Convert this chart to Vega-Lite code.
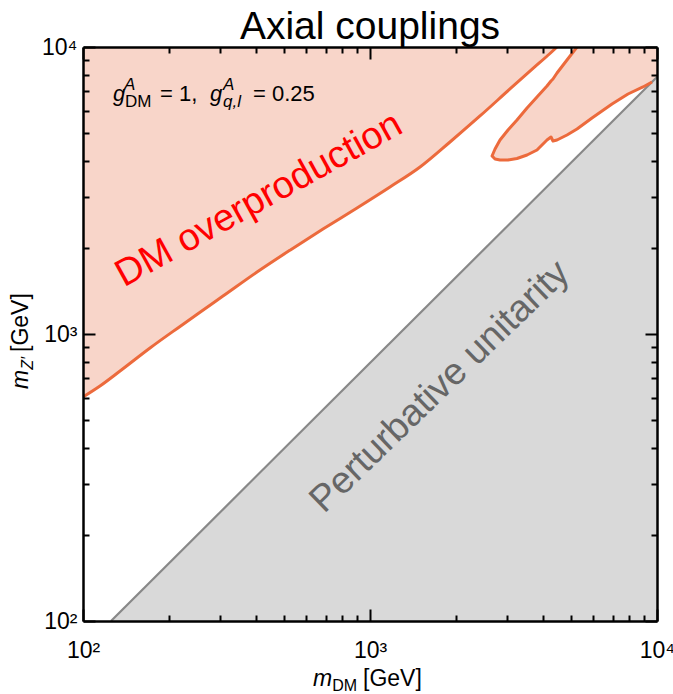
{
  "$schema": "https://vega.github.io/schema/vega-lite/v6.json",
  "width": 574,
  "height": 574,
  "autosize": {"type": "none"},
  "padding": {"left": 83, "top": 47, "right": 16, "bottom": 73},
  "background": "white",
  "config": {"font": "Liberation Sans", "view": {"stroke": null}},
  "title": {"text": "Axial couplings", "fontSize": 39, "font": "Liberation Sans", "fontWeight": "normal", "color": "black", "anchor": "middle", "offset": -11},
  "datasets": {
    "main": [
      {"x": 100, "y": 603.4}, {"x": 114.6, "y": 658.9}, {"x": 134.6, "y": 743.1}, {"x": 171.2, "y": 893.8},
      {"x": 217.8, "y": 1062.8}, {"x": 255.7, "y": 1191.2}, {"x": 307.4, "y": 1355.7}, {"x": 404.0, "y": 1644.4},
      {"x": 526.4, "y": 1959.0}, {"x": 685.8, "y": 2320.1}, {"x": 901.0, "y": 2748}, {"x": 1174, "y": 3252},
      {"x": 1494, "y": 3818}, {"x": 1900, "y": 4667}, {"x": 2417, "y": 5749}, {"x": 3074, "y": 7140},
      {"x": 3698, "y": 8418}, {"x": 4237, "y": 9492}, {"x": 4483, "y": 10000}
    ],
    "island": [
      {"x": 2662, "lo": 4171, "hi": 4171}, {"x": 2727, "lo": 4071, "hi": 4412}, {"x": 2838, "lo": 4040, "hi": 4742},
      {"x": 3026, "lo": 4040, "hi": 5138}, {"x": 3252, "lo": 4088, "hi": 5568}, {"x": 3525, "lo": 4205, "hi": 6131},
      {"x": 3818, "lo": 4377, "hi": 6696}, {"x": 4137, "lo": 4742, "hi": 7314}, {"x": 4272, "lo": 4857, "hi": 7614},
      {"x": 4341, "lo": 4704, "hi": 7737}, {"x": 4483, "lo": 4742, "hi": 8118}, {"x": 4857, "lo": 4936, "hi": 9010},
      {"x": 5264, "lo": 5179, "hi": 10000}, {"x": 5936, "lo": 5658, "hi": 10000}, {"x": 6970, "lo": 6330, "hi": 10000},
      {"x": 7924, "lo": 6859, "hi": 10000}, {"x": 8937, "lo": 7256, "hi": 10000}, {"x": 9607, "lo": 7553, "hi": 10000},
      {"x": 10000, "lo": 7862, "hi": 10000}
    ],
    "islandLine": [
      {"o": 1, "x": 5264, "y": 10000}, {"o": 2, "x": 4857, "y": 9010}, {"o": 3, "x": 4483, "y": 8118},
      {"o": 4, "x": 4341, "y": 7737}, {"o": 5, "x": 4272, "y": 7614}, {"o": 6, "x": 4137, "y": 7314},
      {"o": 7, "x": 3818, "y": 6696}, {"o": 8, "x": 3525, "y": 6131}, {"o": 9, "x": 3252, "y": 5568},
      {"o": 10, "x": 3026, "y": 5138}, {"o": 11, "x": 2838, "y": 4742}, {"o": 12, "x": 2727, "y": 4412},
      {"o": 13, "x": 2662, "y": 4171}, {"o": 14, "x": 2727, "y": 4071}, {"o": 15, "x": 2838, "y": 4040},
      {"o": 16, "x": 3026, "y": 4040}, {"o": 17, "x": 3252, "y": 4088}, {"o": 18, "x": 3525, "y": 4205},
      {"o": 19, "x": 3818, "y": 4377}, {"o": 20, "x": 4137, "y": 4742}, {"o": 21, "x": 4272, "y": 4857},
      {"o": 22, "x": 4341, "y": 4704}, {"o": 23, "x": 4483, "y": 4742}, {"o": 24, "x": 4857, "y": 4936},
      {"o": 25, "x": 5264, "y": 5179}, {"o": 26, "x": 5936, "y": 5658}, {"o": 27, "x": 6970, "y": 6330},
      {"o": 28, "x": 7924, "y": 6859}, {"o": 29, "x": 8937, "y": 7256}, {"o": 30, "x": 9607, "y": 7553}
    ],
    "unitarity": [{"x": 125.2, "y": 100}, {"x": 10000, "y": 7862}]
  },
  "resolve": {"axis": {"x": "independent", "y": "independent"}},
  "layer": [
    {
      "data": {"name": "main"},
      "mark": {"type": "area", "color": "#f8d5c9", "opacity": 1, "clip": true, "interpolate": "monotone", "line": {"color": "#ec6a3c", "strokeWidth": 3}},
      "encoding": {
        "x": {"field": "x", "type": "quantitative", "scale": {"type": "log", "domain": [100, 10000], "nice": false},
          "axis": {"orient": "bottom", "values": [100,200,300,400,500,600,700,800,900,1000,2000,3000,4000,5000,6000,7000,8000,9000,10000],
            "labelExpr": "datum.value == 100 ? '10²' : datum.value == 1000 ? '10³' : datum.value == 10000 ? '10⁴' : ''",
            "labelFontSize": 23, "labelColor": "black", "labelPadding": 30, "labelOverlap": false, "labelFlush": false,
            "tickColor": "black", "tickWidth": 2,
            "tickSize": {"condition": {"test": "datum.value == 100 || datum.value == 1000 || datum.value == 10000", "value": -12}, "value": -6},
            "domainColor": "black", "domainWidth": 2.5, "grid": false, "title": null, "zindex": 1}},
        "y": {"field": "y", "type": "quantitative", "scale": {"type": "log", "domain": [100, 10000], "nice": false},
          "axis": {"orient": "left", "values": [100,200,300,400,500,600,700,800,900,1000,2000,3000,4000,5000,6000,7000,8000,9000,10000],
            "labelExpr": "datum.value == 100 ? '10²' : datum.value == 1000 ? '10³' : datum.value == 10000 ? '10⁴' : ''",
            "labelFontSize": 23, "labelColor": "black", "labelPadding": 18, "labelOverlap": false, "labelFlush": false,
            "tickColor": "black", "tickWidth": 2,
            "tickSize": {"condition": {"test": "datum.value == 100 || datum.value == 1000 || datum.value == 10000", "value": -12}, "value": -6},
            "domainColor": "black", "domainWidth": 2.5, "grid": false, "title": null, "zindex": 1}},
        "y2": {"datum": 10000}
      }
    },
    {
      "data": {"name": "island"},
      "mark": {"type": "area", "color": "#f8d5c9", "opacity": 1, "clip": true},
      "encoding": {
        "x": {"field": "x", "type": "quantitative", "scale": {"type": "log", "domain": [100, 10000], "nice": false}, "axis": null},
        "y": {"field": "lo", "type": "quantitative", "scale": {"type": "log", "domain": [100, 10000], "nice": false}, "axis": null},
        "y2": {"field": "hi"}
      }
    },
    {
      "data": {"name": "unitarity"},
      "mark": {"type": "area", "color": "#d9d9d9", "opacity": 1, "clip": true, "line": {"color": "#888888", "strokeWidth": 2.2}},
      "encoding": {
        "x": {"field": "x", "type": "quantitative", "scale": {"type": "log", "domain": [100, 10000], "nice": false}, "axis": null},
        "y": {"field": "y", "type": "quantitative", "scale": {"type": "log", "domain": [100, 10000], "nice": false}, "axis": null},
        "y2": {"datum": 100}
      }
    },
    {
      "data": {"name": "islandLine"},
      "mark": {"type": "line", "color": "#ec6a3c", "strokeWidth": 3, "clip": true, "strokeJoin": "round"},
      "encoding": {
        "x": {"field": "x", "type": "quantitative", "scale": {"type": "log", "domain": [100, 10000], "nice": false},
          "axis": {"orient": "top", "values": [100,200,300,400,500,600,700,800,900,1000,2000,3000,4000,5000,6000,7000,8000,9000,10000],
            "labels": false, "tickColor": "black", "tickWidth": 2,
            "tickSize": {"condition": {"test": "datum.value == 100 || datum.value == 1000 || datum.value == 10000", "value": -12}, "value": -6},
            "domainColor": "black", "domainWidth": 2.5, "grid": false, "title": null, "zindex": 1}},
        "y": {"field": "y", "type": "quantitative", "scale": {"type": "log", "domain": [100, 10000], "nice": false},
          "axis": {"orient": "right", "values": [100,200,300,400,500,600,700,800,900,1000,2000,3000,4000,5000,6000,7000,8000,9000,10000],
            "labels": false, "tickColor": "black", "tickWidth": 2,
            "tickSize": {"condition": {"test": "datum.value == 100 || datum.value == 1000 || datum.value == 10000", "value": -12}, "value": -6},
            "domainColor": "black", "domainWidth": 2.5, "grid": false, "title": null, "zindex": 1}},
        "order": {"field": "o", "type": "quantitative"}
      }
    },
    {
      "data": {"values": [{"x": 410.5, "y": 2930, "t": "DM overproduction"}]},
      "mark": {"type": "text", "angle": 331, "align": "center", "baseline": "middle", "fontSize": 38, "color": "#ff0000"},
      "encoding": {
        "x": {"field": "x", "type": "quantitative", "axis": null},
        "y": {"field": "y", "type": "quantitative", "axis": null},
        "text": {"field": "t"}
      }
    },
    {
      "data": {"values": [{"x": 1753, "y": 653.6, "t": "Perturbative unitarity"}]},
      "mark": {"type": "text", "angle": 316, "align": "center", "baseline": "middle", "fontSize": 37.5, "color": "#666666"},
      "encoding": {
        "x": {"field": "x", "type": "quantitative", "axis": null},
        "y": {"field": "y", "type": "quantitative", "axis": null},
        "text": {"field": "t"}
      }
    },
    {
      "data": {"values": [{"x": 185.5, "y": 6484, "t": "= 1,"}, {"x": 391.2, "y": 6484, "t": "= 0.25"}]},
      "mark": {"type": "text", "align": "left", "baseline": "alphabetic", "fontSize": 22, "color": "black"},
      "encoding": {
        "x": {"field": "x", "type": "quantitative", "axis": null},
        "y": {"field": "y", "type": "quantitative", "axis": null},
        "text": {"field": "t"}
      }
    },
    {
      "data": {"values": [{"x": 127.2, "y": 6484, "t": "g"}, {"x": 277.0, "y": 6484, "t": "g"}]},
      "mark": {"type": "text", "align": "left", "baseline": "alphabetic", "fontSize": 22, "fontStyle": "italic", "color": "black"},
      "encoding": {
        "x": {"field": "x", "type": "quantitative", "axis": null},
        "y": {"field": "y", "type": "quantitative", "axis": null},
        "text": {"field": "t"}
      }
    },
    {
      "data": {"values": [{"x": 138.9, "y": 7083, "t": "A"}, {"x": 307.4, "y": 7083, "t": "A"}, {"x": 307.4, "y": 6179, "t": "q,l"}]},
      "mark": {"type": "text", "align": "left", "baseline": "alphabetic", "fontSize": 17, "fontStyle": "italic", "color": "black"},
      "encoding": {
        "x": {"field": "x", "type": "quantitative", "axis": null},
        "y": {"field": "y", "type": "quantitative", "axis": null},
        "text": {"field": "t"}
      }
    },
    {
      "data": {"values": [{"x": 140.0, "y": 6179, "t": "DM"}]},
      "mark": {"type": "text", "align": "left", "baseline": "alphabetic", "fontSize": 17, "color": "black"},
      "encoding": {
        "x": {"field": "x", "type": "quantitative", "axis": null},
        "y": {"field": "y", "type": "quantitative", "axis": null},
        "text": {"field": "t"}
      }
    },
    {
      "data": {"values": [{"x": 632.9, "y": 59.4, "t": "m"}]},
      "mark": {"type": "text", "align": "left", "baseline": "alphabetic", "fontSize": 23, "fontStyle": "italic", "color": "black"},
      "encoding": {
        "x": {"field": "x", "type": "quantitative", "axis": null},
        "y": {"field": "y", "type": "quantitative", "axis": null},
        "text": {"field": "t"}
      }
    },
    {
      "data": {"values": [{"x": 738.4, "y": 57.0, "t": "DM"}]},
      "mark": {"type": "text", "align": "left", "baseline": "alphabetic", "fontSize": 16, "color": "black"},
      "encoding": {
        "x": {"field": "x", "type": "quantitative", "axis": null},
        "y": {"field": "y", "type": "quantitative", "axis": null},
        "text": {"field": "t"}
      }
    },
    {
      "data": {"values": [{"x": 945.4, "y": 59.4, "t": "[GeV]"}]},
      "mark": {"type": "text", "align": "left", "baseline": "alphabetic", "fontSize": 23, "color": "black"},
      "encoding": {
        "x": {"field": "x", "type": "quantitative", "axis": null},
        "y": {"field": "y", "type": "quantitative", "axis": null},
        "text": {"field": "t"}
      }
    },
    {
      "data": {"values": [{"x": 64.3, "y": 643.2, "t": "m"}]},
      "mark": {"type": "text", "angle": 270, "align": "left", "baseline": "alphabetic", "fontSize": 23, "fontStyle": "italic", "color": "black"},
      "encoding": {
        "x": {"field": "x", "type": "quantitative", "axis": null},
        "y": {"field": "y", "type": "quantitative", "axis": null},
        "text": {"field": "t"}
      }
    },
    {
      "data": {"values": [{"x": 66.96, "y": 750.3, "t": "Z′"}]},
      "mark": {"type": "text", "angle": 270, "align": "left", "baseline": "alphabetic", "fontSize": 16, "fontStyle": "italic", "color": "black"},
      "encoding": {
        "x": {"field": "x", "type": "quantitative", "axis": null},
        "y": {"field": "y", "type": "quantitative", "axis": null},
        "text": {"field": "t"}
      }
    },
    {
      "data": {"values": [{"x": 64.3, "y": 865.6, "t": "[GeV]"}]},
      "mark": {"type": "text", "angle": 270, "align": "left", "baseline": "alphabetic", "fontSize": 23, "color": "black"},
      "encoding": {
        "x": {"field": "x", "type": "quantitative", "axis": null},
        "y": {"field": "y", "type": "quantitative", "axis": null},
        "text": {"field": "t"}
      }
    }
  ]
}
